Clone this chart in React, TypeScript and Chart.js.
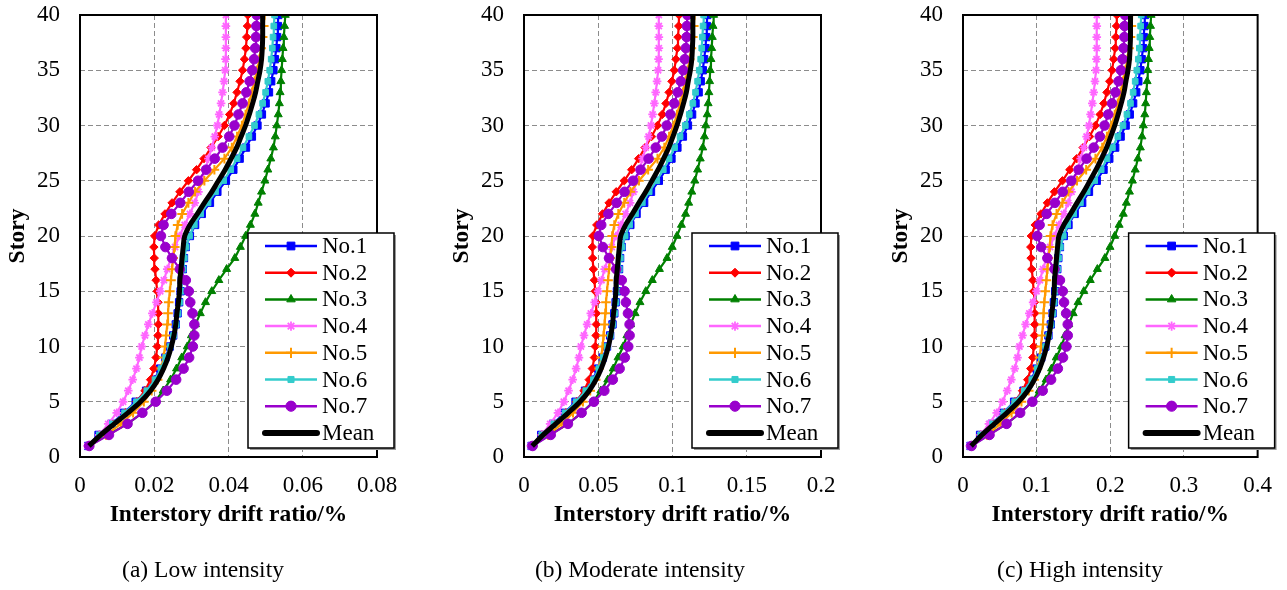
import React, { useEffect, useRef } from 'react';
import { Chart, registerables } from 'chart.js';
import { drawPoint } from 'chart.js/helpers';

Chart.register(...registerables);

// ---------- data ----------
const stories = [1, 2, 3, 4, 5, 6, 7, 8, 9, 10, 11, 12, 13, 14, 15, 16, 17, 18, 19, 20, 21, 22, 23, 24, 25, 26, 27, 28, 29, 30, 31, 32, 33, 34, 35, 36, 37, 38, 39, 40];
const yTickLabels = ['0', '5', '10', '15', '20', '25', '30', '35', '40'];
const seriesNames = ['No.1', 'No.2', 'No.3', 'No.4', 'No.5', 'No.6', 'No.7', 'Mean'];

// (a) Low intensity
const lowTicks = ['0', '0.02', '0.04', '0.06', '0.08'];
const lowNo1 = [0.0022, 0.0050, 0.0085, 0.0118, 0.0150, 0.0178, 0.0200, 0.0216, 0.0230, 0.0242, 0.0251, 0.0258, 0.0263, 0.0267, 0.0271, 0.0274, 0.0277, 0.0280, 0.0285, 0.0296, 0.0310, 0.0328, 0.0350, 0.0370, 0.0393, 0.0413, 0.0430, 0.0447, 0.0463, 0.0478, 0.0490, 0.0500, 0.0509, 0.0515, 0.0521, 0.0525, 0.0529, 0.0531, 0.0533, 0.0534];
const lowNo2 = [0.0022, 0.0052, 0.0088, 0.0122, 0.0153, 0.0175, 0.0190, 0.0199, 0.0205, 0.0208, 0.0210, 0.0211, 0.0211, 0.0210, 0.0208, 0.0205, 0.0202, 0.0200, 0.0199, 0.0201, 0.0212, 0.0229, 0.0248, 0.0269, 0.0292, 0.0314, 0.0334, 0.0353, 0.0372, 0.0389, 0.0403, 0.0414, 0.0423, 0.0431, 0.0438, 0.0443, 0.0447, 0.0449, 0.0451, 0.0452];
const lowNo3 = [0.0024, 0.0075, 0.0128, 0.0168, 0.0202, 0.0224, 0.0244, 0.0260, 0.0274, 0.0289, 0.0300, 0.0311, 0.0324, 0.0338, 0.0355, 0.0374, 0.0395, 0.0417, 0.0432, 0.0446, 0.0459, 0.0471, 0.0480, 0.0489, 0.0498, 0.0506, 0.0514, 0.0521, 0.0526, 0.0530, 0.0534, 0.0537, 0.0539, 0.0541, 0.0543, 0.0545, 0.0547, 0.0549, 0.0551, 0.0553];
const lowNo4 = [0.0020, 0.0052, 0.0076, 0.0099, 0.0116, 0.0130, 0.0142, 0.0152, 0.0160, 0.0166, 0.0175, 0.0184, 0.0195, 0.0206, 0.0216, 0.0226, 0.0235, 0.0245, 0.0256, 0.0268, 0.0282, 0.0296, 0.0309, 0.0319, 0.0328, 0.0337, 0.0346, 0.0355, 0.0363, 0.0370, 0.0375, 0.0380, 0.0384, 0.0388, 0.0391, 0.0392, 0.0393, 0.0393, 0.0393, 0.0393];
const lowNo5 = [0.0025, 0.0070, 0.0110, 0.0143, 0.0172, 0.0193, 0.0209, 0.0219, 0.0225, 0.0229, 0.0232, 0.0235, 0.0237, 0.0239, 0.0242, 0.0245, 0.0248, 0.0251, 0.0255, 0.0257, 0.0263, 0.0275, 0.0292, 0.0310, 0.0335, 0.0362, 0.0389, 0.0409, 0.0423, 0.0436, 0.0446, 0.0455, 0.0463, 0.0470, 0.0477, 0.0483, 0.0488, 0.0492, 0.0495, 0.0497];
const lowNo6 = [0.0023, 0.0052, 0.0087, 0.0120, 0.0152, 0.0180, 0.0202, 0.0218, 0.0231, 0.0243, 0.0252, 0.0259, 0.0264, 0.0268, 0.0272, 0.0275, 0.0278, 0.0281, 0.0286, 0.0295, 0.0308, 0.0325, 0.0345, 0.0365, 0.0387, 0.0406, 0.0423, 0.0439, 0.0455, 0.0470, 0.0482, 0.0492, 0.0500, 0.0506, 0.0511, 0.0515, 0.0518, 0.0520, 0.0522, 0.0524];
const lowNo7 = [0.0025, 0.0078, 0.0128, 0.0168, 0.0204, 0.0234, 0.0259, 0.0279, 0.0294, 0.0304, 0.0308, 0.0308, 0.0303, 0.0297, 0.0293, 0.0285, 0.0269, 0.0248, 0.0230, 0.0218, 0.0225, 0.0246, 0.0270, 0.0293, 0.0318, 0.0340, 0.0363, 0.0384, 0.0402, 0.0416, 0.0427, 0.0438, 0.0448, 0.0457, 0.0464, 0.0469, 0.0472, 0.0474, 0.0475, 0.0476];
const lowMean = [0.0024, 0.0056, 0.0092, 0.0129, 0.0163, 0.0190, 0.0210, 0.0225, 0.0237, 0.0246, 0.0253, 0.0258, 0.0261, 0.0265, 0.0268, 0.0269, 0.0272, 0.0275, 0.0278, 0.0282, 0.0296, 0.0316, 0.0335, 0.0355, 0.0373, 0.0391, 0.0407, 0.0422, 0.0434, 0.0446, 0.0456, 0.0465, 0.0473, 0.0479, 0.0485, 0.0489, 0.0491, 0.0492, 0.0492, 0.0492];

// (b) Moderate intensity
const modTicks = ['0', '0.05', '0.1', '0.15', '0.2'];
const modNo1 = [0.0051, 0.0116, 0.0196, 0.0273, 0.0347, 0.0411, 0.0462, 0.0499, 0.0531, 0.0559, 0.0580, 0.0596, 0.0608, 0.0617, 0.0626, 0.0633, 0.0640, 0.0647, 0.0658, 0.0684, 0.0716, 0.0758, 0.0809, 0.0855, 0.0908, 0.0954, 0.0993, 0.1033, 0.1070, 0.1104, 0.1132, 0.1155, 0.1176, 0.1190, 0.1204, 0.1213, 0.1222, 0.1227, 0.1231, 0.1234];
const modNo2 = [0.0051, 0.0120, 0.0203, 0.0282, 0.0353, 0.0404, 0.0439, 0.0460, 0.0474, 0.0480, 0.0485, 0.0487, 0.0487, 0.0485, 0.0480, 0.0474, 0.0467, 0.0462, 0.0460, 0.0464, 0.0490, 0.0529, 0.0573, 0.0621, 0.0675, 0.0725, 0.0772, 0.0815, 0.0859, 0.0899, 0.0931, 0.0956, 0.0977, 0.0996, 0.1012, 0.1023, 0.1033, 0.1037, 0.1042, 0.1044];
const modNo3 = [0.0055, 0.0173, 0.0296, 0.0388, 0.0467, 0.0517, 0.0564, 0.0601, 0.0633, 0.0668, 0.0693, 0.0718, 0.0748, 0.0781, 0.0820, 0.0864, 0.0912, 0.0963, 0.0998, 0.1030, 0.1060, 0.1088, 0.1109, 0.1130, 0.1150, 0.1169, 0.1187, 0.1204, 0.1215, 0.1224, 0.1234, 0.1240, 0.1245, 0.1250, 0.1254, 0.1259, 0.1264, 0.1268, 0.1273, 0.1277];
const modNo4 = [0.0046, 0.0120, 0.0176, 0.0229, 0.0268, 0.0300, 0.0328, 0.0351, 0.0370, 0.0383, 0.0404, 0.0425, 0.0450, 0.0476, 0.0499, 0.0522, 0.0543, 0.0566, 0.0591, 0.0619, 0.0651, 0.0684, 0.0714, 0.0737, 0.0758, 0.0778, 0.0799, 0.0820, 0.0839, 0.0855, 0.0866, 0.0878, 0.0887, 0.0896, 0.0903, 0.0906, 0.0908, 0.0908, 0.0908, 0.0908];
const modNo5 = [0.0058, 0.0162, 0.0254, 0.0330, 0.0397, 0.0446, 0.0483, 0.0506, 0.0520, 0.0529, 0.0536, 0.0543, 0.0547, 0.0552, 0.0559, 0.0566, 0.0573, 0.0580, 0.0589, 0.0594, 0.0608, 0.0635, 0.0675, 0.0716, 0.0774, 0.0836, 0.0899, 0.0945, 0.0977, 0.1007, 0.1030, 0.1051, 0.1070, 0.1086, 0.1102, 0.1116, 0.1127, 0.1137, 0.1143, 0.1148];
const modNo6 = [0.0053, 0.0120, 0.0201, 0.0277, 0.0351, 0.0416, 0.0467, 0.0504, 0.0534, 0.0561, 0.0582, 0.0598, 0.0610, 0.0619, 0.0628, 0.0635, 0.0642, 0.0649, 0.0661, 0.0681, 0.0711, 0.0751, 0.0797, 0.0843, 0.0894, 0.0938, 0.0977, 0.1014, 0.1051, 0.1086, 0.1113, 0.1137, 0.1155, 0.1169, 0.1180, 0.1190, 0.1197, 0.1201, 0.1206, 0.1210];
const modNo7 = [0.0058, 0.0180, 0.0296, 0.0388, 0.0471, 0.0541, 0.0598, 0.0644, 0.0679, 0.0702, 0.0711, 0.0711, 0.0700, 0.0686, 0.0677, 0.0658, 0.0621, 0.0573, 0.0531, 0.0504, 0.0520, 0.0568, 0.0624, 0.0677, 0.0735, 0.0785, 0.0839, 0.0887, 0.0929, 0.0961, 0.0986, 0.1012, 0.1035, 0.1056, 0.1072, 0.1083, 0.1090, 0.1095, 0.1097, 0.1100];
const modMean = [0.0055, 0.0129, 0.0213, 0.0298, 0.0377, 0.0439, 0.0485, 0.0520, 0.0547, 0.0568, 0.0584, 0.0596, 0.0603, 0.0612, 0.0619, 0.0621, 0.0628, 0.0635, 0.0642, 0.0651, 0.0684, 0.0730, 0.0774, 0.0820, 0.0862, 0.0903, 0.0940, 0.0975, 0.1003, 0.1030, 0.1053, 0.1074, 0.1093, 0.1106, 0.1120, 0.1130, 0.1134, 0.1137, 0.1137, 0.1137];

// (c) High intensity
const highTicks = ['0', '0.1', '0.2', '0.3', '0.4'];
const highNo1 = [0.0102, 0.0232, 0.0392, 0.0546, 0.0694, 0.0822, 0.0924, 0.0998, 0.1062, 0.1118, 0.1160, 0.1192, 0.1216, 0.1234, 0.1252, 0.1266, 0.1280, 0.1294, 0.1316, 0.1368, 0.1432, 0.1516, 0.1618, 0.1710, 0.1816, 0.1908, 0.1986, 0.2066, 0.2140, 0.2208, 0.2264, 0.2310, 0.2352, 0.2380, 0.2408, 0.2426, 0.2444, 0.2454, 0.2462, 0.2468];
const highNo2 = [0.0102, 0.0240, 0.0406, 0.0564, 0.0706, 0.0808, 0.0878, 0.0920, 0.0948, 0.0960, 0.0970, 0.0974, 0.0974, 0.0970, 0.0960, 0.0948, 0.0934, 0.0924, 0.0920, 0.0928, 0.0980, 0.1058, 0.1146, 0.1242, 0.1350, 0.1450, 0.1544, 0.1630, 0.1718, 0.1798, 0.1862, 0.1912, 0.1954, 0.1992, 0.2024, 0.2046, 0.2066, 0.2074, 0.2084, 0.2088];
const highNo3 = [0.0110, 0.0346, 0.0592, 0.0776, 0.0934, 0.1034, 0.1128, 0.1202, 0.1266, 0.1336, 0.1386, 0.1436, 0.1496, 0.1562, 0.1640, 0.1728, 0.1824, 0.1926, 0.1996, 0.2060, 0.2120, 0.2176, 0.2218, 0.2260, 0.2300, 0.2338, 0.2374, 0.2408, 0.2430, 0.2448, 0.2468, 0.2480, 0.2490, 0.2500, 0.2508, 0.2518, 0.2528, 0.2536, 0.2546, 0.2554];
const highNo4 = [0.0092, 0.0240, 0.0352, 0.0458, 0.0536, 0.0600, 0.0656, 0.0702, 0.0740, 0.0766, 0.0808, 0.0850, 0.0900, 0.0952, 0.0998, 0.1044, 0.1086, 0.1132, 0.1182, 0.1238, 0.1302, 0.1368, 0.1428, 0.1474, 0.1516, 0.1556, 0.1598, 0.1640, 0.1678, 0.1710, 0.1732, 0.1756, 0.1774, 0.1792, 0.1806, 0.1812, 0.1816, 0.1816, 0.1816, 0.1816];
const highNo5 = [0.0116, 0.0324, 0.0508, 0.0660, 0.0794, 0.0892, 0.0966, 0.1012, 0.1040, 0.1058, 0.1072, 0.1086, 0.1094, 0.1104, 0.1118, 0.1132, 0.1146, 0.1160, 0.1178, 0.1188, 0.1216, 0.1270, 0.1350, 0.1432, 0.1548, 0.1672, 0.1798, 0.1890, 0.1954, 0.2014, 0.2060, 0.2102, 0.2140, 0.2172, 0.2204, 0.2232, 0.2254, 0.2274, 0.2286, 0.2296];
const highNo6 = [0.0106, 0.0240, 0.0402, 0.0554, 0.0702, 0.0832, 0.0934, 0.1008, 0.1068, 0.1122, 0.1164, 0.1196, 0.1220, 0.1238, 0.1256, 0.1270, 0.1284, 0.1298, 0.1322, 0.1362, 0.1422, 0.1502, 0.1594, 0.1686, 0.1788, 0.1876, 0.1954, 0.2028, 0.2102, 0.2172, 0.2226, 0.2274, 0.2310, 0.2338, 0.2360, 0.2380, 0.2394, 0.2402, 0.2412, 0.2420];
const highNo7 = [0.0116, 0.0360, 0.0592, 0.0776, 0.0942, 0.1082, 0.1196, 0.1288, 0.1358, 0.1404, 0.1422, 0.1422, 0.1400, 0.1372, 0.1354, 0.1316, 0.1242, 0.1146, 0.1062, 0.1008, 0.1040, 0.1136, 0.1248, 0.1354, 0.1470, 0.1570, 0.1678, 0.1774, 0.1858, 0.1922, 0.1972, 0.2024, 0.2070, 0.2112, 0.2144, 0.2166, 0.2180, 0.2190, 0.2194, 0.2200];
const highMean = [0.0110, 0.0258, 0.0426, 0.0596, 0.0754, 0.0878, 0.0970, 0.1040, 0.1094, 0.1136, 0.1168, 0.1192, 0.1206, 0.1224, 0.1238, 0.1242, 0.1256, 0.1270, 0.1284, 0.1302, 0.1368, 0.1460, 0.1548, 0.1640, 0.1724, 0.1806, 0.1880, 0.1950, 0.2006, 0.2060, 0.2106, 0.2148, 0.2186, 0.2212, 0.2240, 0.2260, 0.2268, 0.2274, 0.2274, 0.2274];

// ---------- styling ----------
const FONT = "'Liberation Serif', 'Times New Roman', serif";
const seriesStyles = [
  { color: '#0000ff', point: 'rect', radius: 5.2, pointBorder: 1 },
  { color: '#ff0000', point: 'rectRot', radius: 4.2, pointBorder: 1 },
  { color: '#008000', point: 'triangle', radius: 4.6, pointBorder: 1 },
  { color: '#ff66ff', point: 'star', radius: 4.3, pointBorder: 1.8 },
  { color: '#ff9900', point: 'cross', radius: 4.8, pointBorder: 2 },
  { color: '#33cccc', point: 'rect', radius: 4.0, pointBorder: 1 },
  { color: '#9900cc', point: 'circle', radius: 4.8, pointBorder: 1 },
  { color: '#000000', point: false, radius: 0, pointBorder: 0 },
];

type PanelCfg = {
  left: number;
  width: number;
  plotLeft: number;
  plotRight: number;
  xMax: number;
  xStep: number;
  xLabels: string[];
  caption: string;
  captionX: number;
  series: number[][];
};

const panels: PanelCfg[] = [
  { left: 0, width: 430, plotLeft: 80, plotRight: 377, xMax: 0.08, xStep: 0.02, xLabels: lowTicks, caption: '(a) Low intensity', captionX: 203, series: [lowNo1, lowNo2, lowNo3, lowNo4, lowNo5, lowNo6, lowNo7, lowMean] },
  { left: 430, width: 430, plotLeft: 94, plotRight: 391, xMax: 0.2, xStep: 0.05, xLabels: modTicks, caption: '(b) Moderate intensity', captionX: 210, series: [modNo1, modNo2, modNo3, modNo4, modNo5, modNo6, modNo7, modMean] },
  { left: 860, width: 427, plotLeft: 103, plotRight: 399, xMax: 0.4, xStep: 0.1, xLabels: highTicks, caption: '(c) High intensity', captionX: 220, series: [highNo1, highNo2, highNo3, highNo4, highNo5, highNo6, highNo7, highMean] },
];

const CANVAS_H = 590;
const PLOT_TOP = 15;
const PLOT_BOTTOM = 457;
const X_AXIS_H = 40;

// Frame, legend box, axis titles and caption drawn on top of the plot
const overlayPlugin = {
  id: 'overlay',
  afterDatasetsDraw(chart: any, _args: any, opts: any) {
    const p: PanelCfg = opts.panel;
    const { ctx, chartArea: a } = chart;
    ctx.save();

    ctx.strokeStyle = '#000';
    ctx.lineWidth = 2;
    ctx.strokeRect(a.left, a.top, a.right - a.left, a.bottom - a.top);

    // legend
    const bx = a.right - 129;
    const by = 233;
    const bw = 146;
    const bh = 215;
    ctx.fillStyle = '#9a9a9a';
    ctx.fillRect(bx + 2, by + 2, bw, bh);
    ctx.fillStyle = '#ffffff';
    ctx.fillRect(bx, by, bw, bh);
    ctx.strokeStyle = '#000';
    ctx.lineWidth = 1.5;
    ctx.strokeRect(bx, by, bw, bh);

    ctx.font = `23px ${FONT}`;
    ctx.textBaseline = 'middle';
    ctx.textAlign = 'left';
    seriesNames.forEach((name, i) => {
      const st = seriesStyles[i];
      const y = by + 13 + i * 26.7;
      ctx.strokeStyle = st.color;
      ctx.fillStyle = st.color;
      ctx.lineWidth = i === 7 ? 6 : 2.5;
      ctx.lineCap = i === 7 ? 'round' : 'butt';
      ctx.beginPath();
      ctx.moveTo(bx + 17, y);
      ctx.lineTo(bx + 69, y);
      ctx.stroke();
      if (st.point) {
        ctx.lineWidth = st.pointBorder;
        drawPoint(ctx, { pointStyle: st.point, radius: st.radius + 0.3, borderWidth: st.pointBorder, rotation: 0 } as any, bx + 43, y);
      }
      ctx.fillStyle = '#000';
      ctx.fillText(name, bx + 74, y + 1);
    });

    // axis titles
    ctx.fillStyle = '#000';
    ctx.font = `bold 23.5px ${FONT}`;
    ctx.textAlign = 'center';
    ctx.textBaseline = 'middle';
    ctx.fillText('Interstory drift ratio/%', (a.left + a.right) / 2, 515);
    ctx.save();
    ctx.translate(a.left - 62, (a.top + a.bottom) / 2);
    ctx.rotate(-Math.PI / 2);
    ctx.fillText('Story', 0, 0);
    ctx.restore();

    // caption
    ctx.font = `23.5px ${FONT}`;
    ctx.fillText(p.caption, p.captionX, 571);

    ctx.restore();
  },
};

function Panel({ cfg }: { cfg: PanelCfg }) {
  const ref = useRef<HTMLCanvasElement>(null);

  useEffect(() => {
    const datasets = cfg.series.map((vals, i) => {
      const st = seriesStyles[i];
      const isMean = i === 7;
      return {
        label: seriesNames[i],
        data: stories.map((s, k) => ({ x: vals[k], y: s })),
        showLine: true,
        borderColor: st.color,
        backgroundColor: st.color,
        borderWidth: isMean ? 5 : 2.2,
        pointStyle: st.point,
        pointRadius: st.radius,
        pointBorderWidth: st.pointBorder,
        pointBackgroundColor: st.color,
        pointBorderColor: st.color,
        tension: isMean ? 0.35 : 0,
        order: 7 - i,
      };
    });

    const chart = new Chart(ref.current as HTMLCanvasElement, {
      type: 'scatter',
      data: { datasets } as any,
      plugins: [overlayPlugin],
      options: {
        responsive: false,
        animation: false,
        devicePixelRatio: 1,
        events: [],
        layout: {
          padding: {
            left: 0,
            top: PLOT_TOP,
            right: cfg.width - cfg.plotRight,
            bottom: CANVAS_H - PLOT_BOTTOM - X_AXIS_H,
          },
        },
        plugins: {
          legend: { display: false },
          tooltip: { enabled: false },
          overlay: { panel: cfg },
        } as any,
        scales: {
          x: {
            type: 'linear',
            min: 0,
            max: cfg.xMax,
            afterFit: (s: any) => { s.height = X_AXIS_H; },
            ticks: {
              stepSize: cfg.xStep,
              autoSkip: false,
              maxRotation: 0,
              padding: 15,
              color: '#000',
              font: { family: FONT, size: 23 },
              callback: (_v: any, i: number) => cfg.xLabels[i],
            },
            grid: { color: '#8c8c8c', lineWidth: 1, drawTicks: false },
            border: { display: false, dash: [5, 3] },
          },
          y: {
            type: 'linear',
            min: 0,
            max: 40,
            afterFit: (s: any) => { s.width = cfg.plotLeft; },
            ticks: {
              stepSize: 5,
              autoSkip: false,
              padding: 0,
              color: '#000',
              font: { family: FONT, size: 23 },
              callback: (_v: any, i: number) => yTickLabels[i],
            },
            grid: { color: '#8c8c8c', lineWidth: 1, drawTicks: true, tickLength: 20, tickColor: 'rgba(0,0,0,0)' },
            border: { display: false, dash: [5, 3] },
          },
        },
      } as any,
    });
    return () => chart.destroy();
  }, [cfg]);

  return (
    <canvas
      ref={ref}
      width={cfg.width}
      height={CANVAS_H}
      style={{ position: 'absolute', left: cfg.left, top: 0, width: cfg.width, height: CANVAS_H }}
    />
  );
}

export default function App() {
  return (
    <div style={{ position: 'fixed', left: 0, top: 0, width: 1287, height: CANVAS_H, background: '#ffffff', overflow: 'hidden' }}>
      {panels.map((p) => (
        <Panel key={p.caption} cfg={p} />
      ))}
    </div>
  );
}
